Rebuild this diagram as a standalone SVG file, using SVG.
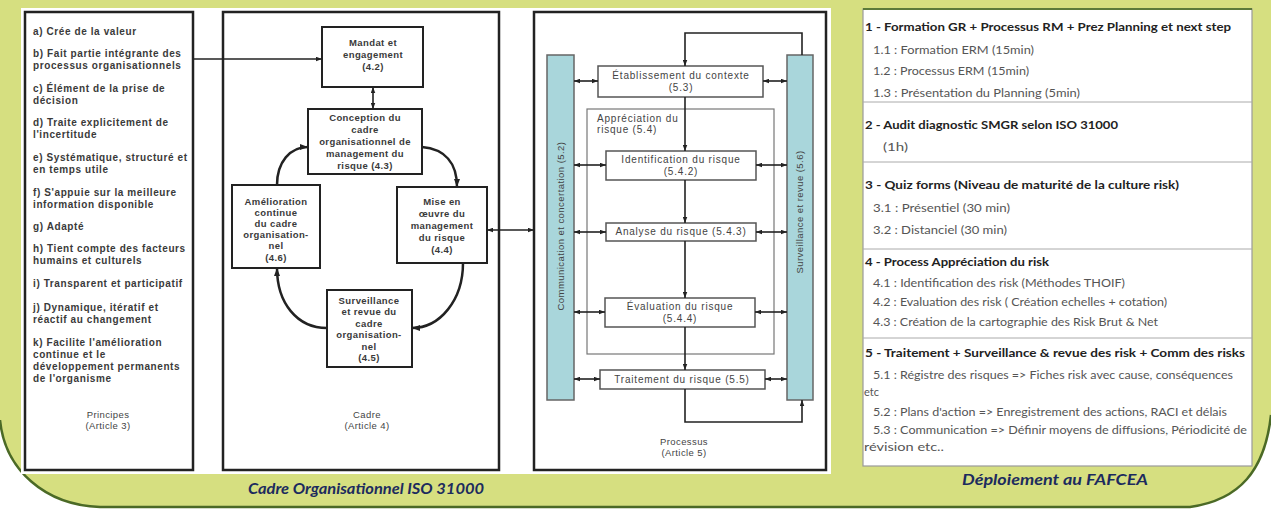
<svg xmlns="http://www.w3.org/2000/svg" width="1271" height="511" viewBox="0 0 1271 511">
<style>
.pr{font-family:"Liberation Sans",Arial,sans-serif;font-size:10px;letter-spacing:0.6px;font-weight:bold;fill:#3a3a3a}
.cd{font-family:"Liberation Sans",Arial,sans-serif;font-size:9.5px;letter-spacing:0.4px;font-weight:bold;fill:#3a3a3a;text-anchor:middle}
.ps{font-family:"Liberation Sans",Arial,sans-serif;font-size:10px;letter-spacing:0.8px;fill:#444;text-anchor:middle}
.bt{font-family:"Liberation Sans",Arial,sans-serif;font-size:9.5px;letter-spacing:0.45px;fill:#444;text-anchor:middle}
.lbl{font-family:"Liberation Sans",Arial,sans-serif;font-size:9.5px;letter-spacing:0.4px;fill:#444;text-anchor:middle}
.box{fill:#fff;stroke:#222;stroke-width:2.5}
.nb{fill:#fff;stroke:#222;stroke-width:2}
.pb{fill:#fff;stroke:#555;stroke-width:1.5}
.bar{fill:#a9d6db;stroke:#666;stroke-width:1.5}
.ln{fill:none;stroke:#222;stroke-width:1.6}
.th{fill:none;stroke:#222;stroke-width:2.5}
.h{font-family:Lato,"Liberation Sans",sans-serif;font-size:12px;font-weight:bold;fill:#222}
.it{font-family:Lato,"Liberation Sans",sans-serif;font-size:11px;fill:#555}
.ft{font-family:Lato,"Liberation Sans",sans-serif;font-size:15px;font-weight:bold;font-style:italic;fill:#1c2b5e;text-anchor:middle}
.sep{stroke:#aaa;stroke-width:1}
</style>
<defs>
<marker id="ah" viewBox="0 0 8 6" refX="8" refY="3" markerWidth="6" markerHeight="5" markerUnits="userSpaceOnUse" orient="auto-start-reverse">
<path d="M0,0 L8,3 L0,6 Z" fill="#222"/>
</marker>
<marker id="ahb" viewBox="0 0 8 6" refX="8" refY="3" markerWidth="8" markerHeight="6" markerUnits="userSpaceOnUse" orient="auto-start-reverse">
<path d="M0,0 L8,3 L0,6 Z" fill="#222"/>
</marker>
</defs>

<!-- background -->
<rect x="0" y="0" width="1271" height="511" fill="#fff"/>
<path d="M0,0 H1271 V415 C1265,470 1240,500 1190,507 H100 C45,505 5,470 0,420 Z" fill="#d6df80"/>
<path d="M0,420 C5,470 45,505 100,507 H1190 C1240,500 1265,470 1271,415" fill="none" stroke="#4b6a26" stroke-width="2.5"/>
<rect x="21" y="8" width="810" height="466" fill="#fff"/>

<!-- panels -->
<g id="principes">
<rect class="box" x="25" y="12" width="168" height="458"/>
<text class="pr" x="33" y="35">a) Crée de la valeur</text>
<text class="pr" x="33" y="57">b) Fait partie intégrante des</text>
<text class="pr" x="33" y="69">processus organisationnels</text>
<text class="pr" x="33" y="92">c) Élément de la prise de</text>
<text class="pr" x="33" y="104">décision</text>
<text class="pr" x="33" y="126">d) Traite explicitement de</text>
<text class="pr" x="33" y="138">l'incertitude</text>
<text class="pr" x="33" y="161">e) Systématique, structuré et</text>
<text class="pr" x="33" y="173">en temps utile</text>
<text class="pr" x="33" y="196">f) S'appuie sur la meilleure</text>
<text class="pr" x="33" y="208">information disponible</text>
<text class="pr" x="33" y="230">g) Adapté</text>
<text class="pr" x="33" y="252">h) Tient compte des facteurs</text>
<text class="pr" x="33" y="264">humains et culturels</text>
<text class="pr" x="33" y="287">i) Transparent et participatif</text>
<text class="pr" x="33" y="311">j) Dynamique, itératif et</text>
<text class="pr" x="33" y="323">réactif au changement</text>
<text class="pr" x="33" y="346">k) Facilite l'amélioration</text>
<text class="pr" x="33" y="358">continue et le</text>
<text class="pr" x="33" y="370">développement permanents</text>
<text class="pr" x="33" y="382">de l'organisme</text>
<text class="lbl" x="108" y="418">Principes</text>
<text class="lbl" x="108" y="429">(Article 3)</text>
</g>

<g id="cadre">
<rect class="box" x="223" y="12" width="276" height="458"/>
<text class="lbl" x="367" y="418">Cadre</text>
<text class="lbl" x="367" y="429">(Article 4)</text>
</g>

<g id="processus">
<rect class="box" x="534" y="12" width="292" height="458"/>
<text class="lbl" x="684" y="445">Processus</text>
<text class="lbl" x="684" y="456">(Article 5)</text>
</g>

<g id="mandat">
<rect class="nb" x="322" y="27" width="101" height="60"/>
<text class="cd" x="373" y="46">Mandat et</text>
<text class="cd" x="373" y="58">engagement</text>
<text class="cd" x="373" y="70">(4.2)</text>
</g>
<g id="conception">
<rect class="nb" x="308" y="109" width="114" height="65"/>
<text class="cd" x="365" y="121">Conception du</text>
<text class="cd" x="365" y="133">cadre</text>
<text class="cd" x="365" y="145">organisationnel de</text>
<text class="cd" x="365" y="157">management du</text>
<text class="cd" x="365" y="169">risque (4.3)</text>
</g>
<g id="amelioration">
<rect class="nb" x="232" y="185" width="88" height="83"/>
<text class="cd" x="276" y="205">Amélioration</text>
<text class="cd" x="276" y="216">continue</text>
<text class="cd" x="276" y="227">du cadre</text>
<text class="cd" x="276" y="238">organisation-</text>
<text class="cd" x="276" y="249">nel</text>
<text class="cd" x="276" y="261">(4.6)</text>
</g>
<g id="mise">
<rect class="nb" x="397" y="187" width="90" height="76"/>
<text class="cd" x="442" y="205">Mise en</text>
<text class="cd" x="442" y="217">œuvre du</text>
<text class="cd" x="442" y="229">management</text>
<text class="cd" x="442" y="241">du risque</text>
<text class="cd" x="442" y="253">(4.4)</text>
</g>
<g id="surveillance-cadre">
<rect class="nb" x="327" y="290" width="85" height="77"/>
<text class="cd" x="369" y="304">Surveillance</text>
<text class="cd" x="369" y="315">et revue du</text>
<text class="cd" x="369" y="327">cadre</text>
<text class="cd" x="369" y="338">organisation-</text>
<text class="cd" x="369" y="350">nel</text>
<text class="cd" x="369" y="361">(4.5)</text>
</g>

<g id="communication">
<rect class="bar" x="547" y="55" width="27" height="345"/>
<text class="bt" transform="translate(564,226) rotate(-90)">Communication et concertation (5.2)</text>
</g>
<g id="surveillance-revue">
<rect class="bar" x="787" y="55" width="26" height="345"/>
<text class="bt" transform="translate(803,212) rotate(-90)">Surveillance et revue (5.6)</text>
</g>
<g id="appreciation">
<rect x="587" y="109" width="187" height="245" fill="none" stroke="#777" stroke-width="1.2"/>
<text class="ps" x="597" y="122" style="text-anchor:start">Appréciation du</text>
<text class="ps" x="597" y="133" style="text-anchor:start">risque (5.4)</text>
</g>
<g id="etablissement">
<rect class="pb" x="598" y="66" width="165" height="31"/>
<text class="ps" x="681" y="79">Établissement du contexte</text>
<text class="ps" x="681" y="91">(5.3)</text>
</g>
<g id="identification">
<rect class="pb" x="606" y="151" width="150" height="29"/>
<text class="ps" x="681" y="163">Identification du risque</text>
<text class="ps" x="681" y="175">(5.4.2)</text>
</g>
<g id="analyse">
<rect class="pb" x="606" y="223" width="150" height="18"/>
<text class="ps" x="681" y="235">Analyse du risque (5.4.3)</text>
</g>
<g id="evaluation">
<rect class="pb" x="605" y="298" width="150" height="29"/>
<text class="ps" x="680" y="310">Évaluation du risque</text>
<text class="ps" x="680" y="322">(5.4.4)</text>
</g>
<g id="traitement">
<rect class="pb" x="600" y="370" width="165" height="19"/>
<text class="ps" x="682" y="383">Traitement du risque (5.5)</text>
</g>

<g id="connectors">
<path class="ln" d="M193,59 H322" marker-end="url(#ah)"/>
<path class="ln" d="M373,87 V109" marker-start="url(#ah)" marker-end="url(#ah)"/>
<path class="th" d="M422,147 C445,149 457,163 457,187" marker-end="url(#ahb)"/>
<path class="th" d="M463,263 C463,300 440,328 412,328" marker-end="url(#ahb)"/>
<path class="th" d="M327,328 C297,328 277,303 277,268" marker-end="url(#ahb)"/>
<path class="th" d="M277,185 C277,162 290,147 308,147" marker-end="url(#ahb)"/>
<path class="ln" d="M487,230 H534" marker-start="url(#ah)" marker-end="url(#ah)"/>

<path class="ln" d="M802,55 V33 H685 V66" marker-end="url(#ah)"/>
<path class="ln" d="M685,97 V151" marker-end="url(#ah)"/>
<path class="ln" d="M685,180 V223" marker-end="url(#ah)"/>
<path class="ln" d="M685,241 V298" marker-end="url(#ah)"/>
<path class="ln" d="M685,327 V370" marker-end="url(#ah)"/>
<path class="ln" d="M685,389 V422 H802 V400" marker-end="url(#ah)"/>

<path class="ln" d="M574,81 H598" marker-start="url(#ah)" marker-end="url(#ah)"/>
<path class="ln" d="M763,81 H787" marker-start="url(#ah)" marker-end="url(#ah)"/>
<path class="ln" d="M574,165 H606" marker-start="url(#ah)" marker-end="url(#ah)"/>
<path class="ln" d="M756,165 H787" marker-start="url(#ah)" marker-end="url(#ah)"/>
<path class="ln" d="M574,232 H606" marker-start="url(#ah)" marker-end="url(#ah)"/>
<path class="ln" d="M756,232 H787" marker-start="url(#ah)" marker-end="url(#ah)"/>
<path class="ln" d="M574,312 H605" marker-start="url(#ah)" marker-end="url(#ah)"/>
<path class="ln" d="M755,312 H787" marker-start="url(#ah)" marker-end="url(#ah)"/>
<path class="ln" d="M574,379 H600" marker-start="url(#ah)" marker-end="url(#ah)"/>
<path class="ln" d="M765,379 H787" marker-start="url(#ah)" marker-end="url(#ah)"/>
</g>

<g id="deploiement">
<rect x="863" y="9" width="389" height="457" fill="#fff" stroke="#9a9a9a" stroke-width="1.2"/>
<line x1="863" y1="9" x2="1252" y2="9" stroke="#5c7a3a" stroke-width="2"/>
<line class="sep" x1="863" y1="102" x2="1252" y2="102"/>
<line class="sep" x1="863" y1="162" x2="1252" y2="162"/>
<line class="sep" x1="863" y1="249" x2="1252" y2="249"/>
<line class="sep" x1="863" y1="338" x2="1252" y2="338"/>
<text class="h" x="865" y="31" textLength="366" lengthAdjust="spacingAndGlyphs">1 - Formation GR + Processus RM + Prez Planning et next step</text>
<text class="it" x="873" y="54" textLength="161" lengthAdjust="spacingAndGlyphs">1.1 : Formation ERM (15min)</text>
<text class="it" x="873" y="75" textLength="156" lengthAdjust="spacingAndGlyphs">1.2 : Processus ERM (15min)</text>
<text class="it" x="873" y="97" textLength="207" lengthAdjust="spacingAndGlyphs">1.3 : Présentation du Planning (5min)</text>
<text class="h" x="865" y="129" textLength="253" lengthAdjust="spacingAndGlyphs">2 - Audit diagnostic SMGR selon ISO 31000</text>
<text class="it" x="883" y="151" textLength="25" lengthAdjust="spacingAndGlyphs">(1h)</text>
<text class="h" x="865" y="189" textLength="314" lengthAdjust="spacingAndGlyphs">3 - Quiz forms (Niveau de maturité de la culture risk)</text>
<text class="it" x="873" y="212" textLength="137" lengthAdjust="spacingAndGlyphs">3.1 : Présentiel (30 min)</text>
<text class="it" x="873" y="234" textLength="134" lengthAdjust="spacingAndGlyphs">3.2 : Distanciel (30 min)</text>
<text class="h" x="865" y="266" textLength="184" lengthAdjust="spacingAndGlyphs">4 - Process Appréciation du risk</text>
<text class="it" x="873" y="287" textLength="252" lengthAdjust="spacingAndGlyphs">4.1 : Identification des risk (Méthodes THOIF)</text>
<text class="it" x="873" y="306" textLength="294" lengthAdjust="spacingAndGlyphs">4.2 : Evaluation des risk ( Création echelles + cotation)</text>
<text class="it" x="873" y="326" textLength="285" lengthAdjust="spacingAndGlyphs">4.3 : Création de la cartographie des Risk Brut &amp; Net</text>
<text class="h" x="865" y="357" textLength="380" lengthAdjust="spacingAndGlyphs">5 - Traitement + Surveillance &amp; revue des risk + Comm des risks</text>
<text class="it" x="873" y="379" textLength="360" lengthAdjust="spacingAndGlyphs">5.1 : Régistre des risques =&gt; Fiches risk avec cause, conséquences</text>
<text class="it" x="864" y="396">etc</text>
<text class="it" x="873" y="416" textLength="354" lengthAdjust="spacingAndGlyphs">5.2 : Plans d'action =&gt; Enregistrement des actions, RACI et délais</text>
<text class="it" x="873" y="434" textLength="374" lengthAdjust="spacingAndGlyphs">5.3 : Communication =&gt; Définir moyens de diffusions, Périodicité de</text>
<text class="it" x="864" y="451" textLength="80" lengthAdjust="spacingAndGlyphs">révision etc..</text>
</g>

<text class="ft" x="366" y="494" textLength="236" lengthAdjust="spacingAndGlyphs">Cadre Organisationnel ISO 31000</text>
<text class="ft" x="1055" y="485" textLength="186" lengthAdjust="spacingAndGlyphs">Déploiement au FAFCEA</text>
</svg>
